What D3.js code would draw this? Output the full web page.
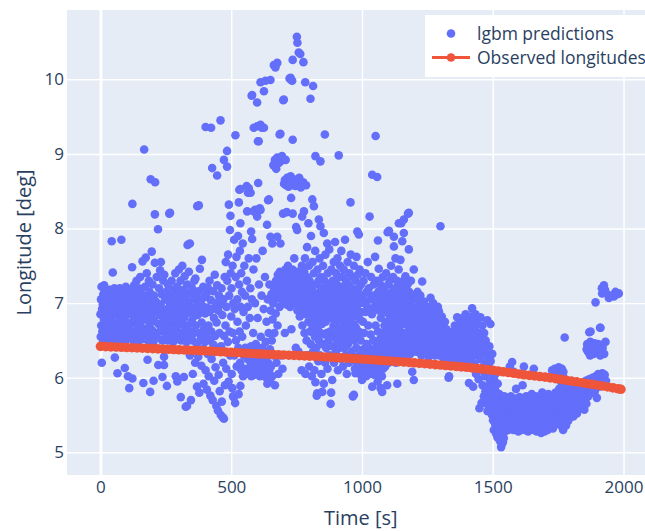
<!DOCTYPE html>
<html><head><meta charset="utf-8">
<script src="https://cdn.jsdelivr.net/npm/d3@7"></script>
<style>body{margin:0;background:#fff}svg{display:block;font-family:"Open Sans",sans-serif}</style>
</head><body><svg id="c" width="645" height="531"></svg>
<script>
const xTicks=[0,500,1000,1500,2000];
const yTicks=[5,6,7,8,9,10];
const seriesNames=["lgbm predictions","Observed longitudes"];
const axisTitles={x:"Time [s]",y:"Longitude [deg]"};
const obsTime=[0,20,40,60,80,100,120,140,160,180,200,220,240,260,280,300,320,340,360,380,400,420,440,460,480,500,520,540,560,580,600,620,640,660,680,700,720,740,760,780,800,820,840,860,880,900,920,940,960,980,1000,1020,1040,1060,1080,1100,1120,1140,1160,1180,1200,1220,1240,1260,1280,1300,1320,1340,1360,1380,1400,1420,1440,1460,1480,1500,1520,1540,1560,1580,1600,1620,1640,1660,1680,1700,1720,1740,1760,1780,1800,1820,1840,1860,1880,1900,1920,1940,1960,1980,1990];
const obsLon=[6.420,6.417,6.414,6.411,6.408,6.405,6.402,6.399,6.396,6.393,6.390,6.387,6.384,6.381,6.378,6.375,6.372,6.369,6.366,6.363,6.360,6.356,6.352,6.348,6.344,6.340,6.336,6.332,6.328,6.324,6.320,6.317,6.314,6.311,6.308,6.305,6.302,6.299,6.296,6.293,6.290,6.286,6.282,6.278,6.274,6.270,6.266,6.262,6.258,6.254,6.250,6.245,6.240,6.235,6.230,6.225,6.220,6.215,6.210,6.205,6.200,6.194,6.188,6.182,6.176,6.170,6.164,6.158,6.152,6.146,6.140,6.132,6.124,6.116,6.108,6.100,6.090,6.080,6.070,6.060,6.050,6.040,6.032,6.024,6.016,6.008,5.998,5.988,5.978,5.966,5.955,5.944,5.933,5.922,5.911,5.900,5.888,5.876,5.864,5.852,5.845];
const predSeg1=[[0,6.85],[1,6.55],[2,7.05],[3,6.7],[4,7.22],[5,6.2],[6,6.92],[7,6.62],[9,6.98],[10,6.5],[11,7.12],[13,6.78],[14,7.24],[15,6.6],[17,6.88],[18,6.52],[20,7.02],[21,6.68],[23,7.15],[24,6.82],[26,6.58],[27,6.95],[29,7.08],[30,6.72],[32,6.5],[33,6.9],[35,7.18],[36,6.64],[38,6.8],[40,7.0],[41,6.55],[43,7.83],[44,6.92],[46,6.74],[47,7.41],[48,7.1],[50,6.62],[51,6.86],[53,7.2],[54,6.5],[55,6.27],[56,6.97],[58,6.7],[59,7.06],[61,6.58],[62,6.84],[64,7.14],[65,6.06],[66,6.66],[68,6.93],[69,6.53],[71,7.02],[72,6.76],[74,7.2],[75,6.6],[77,6.9],[78,6.48],[80,7.85],[81,7.08],[83,6.72],[84,6.95],[86,6.56],[87,7.16],[89,6.82],[90,6.64],[92,7.04],[93,6.13],[94,6.9],[96,6.5],[97,7.22],[99,6.75],[100,6.98],[102,6.6],[103,7.12],[105,6.02],[106,6.85],[108,6.68],[109,7.05],[110,5.86],[111,6.54],[113,6.94],[114,7.18],[116,6.72],[117,6.6],[119,7.0],[121,7.48],[122,8.33],[122,5.99],[123,6.88],[125,6.5],[126,7.1],[128,6.78],[129,7.24],[131,6.62],[132,6.95],[134,6.84],[135,7.14],[137,6.56],[138,7.3],[140,6.9],[141,6.7],[143,7.06],[144,6.48],[146,7.2],[147,6.8],[149,6.64],[150,7.0],[152,7.35],[153,6.74],[155,6.92],[156,6.58],[158,7.12],[159,6.86],[161,7.56],[162,6.66],[164,5.93],[165,7.04],[167,9.06],[168,6.52],[170,7.22],[171,6.78],[173,7.61],[174,6.96],[176,6.62],[177,7.4],[179,6.84],[180,6.24],[181,7.1],[182,6.5],[184,6.92],[185,7.3],[187,6.7],[188,7.15],[190,5.81],[191,6.58],[192,8.66],[193,7.0],[195,6.8],[196,7.69],[197,6.64],[199,7.25],[200,6.9],[202,6.48],[203,5.96],[204,7.1],[206,6.76],[208,7.54],[208,8.19],[209,8.62],[210,6.6],[212,7.02],[213,6.88],[215,7.35],[216,6.54],[218,6.95],[220,7.99],[221,6.17],[222,6.72],[224,7.2],[225,6.84],[227,6.62],[228,7.44],[230,6.98],[231,7.55],[233,6.7],[234,7.12],[236,6.5],[237,6.01],[238,6.9],[240,7.3],[241,6.78],[243,6.28],[243,6.17],[244,7.38],[245,6.64],[247,7.05],[248,6.86],[250,6.56]];
const predSeg2=[[251,7.15],[252,6.7],[254,5.89],[255,6.92],[256,6.5],[258,7.25],[259,6.8],[261,6.62],[262,7.02],[263,8.2],[264,6.88],[266,8.21],[266,6.55],[268,7.1],[269,6.74],[271,6.96],[272,7.3],[274,6.6],[275,6.85],[277,7.18],[278,6.48],[280,6.92],[281,6.7],[283,7.06],[284,6.58],[286,7.4],[287,6.82],[288,6.02],[289,7.0],[290,6.66],[292,7.22],[293,6.52],[294,5.95],[295,6.9],[297,7.12],[298,6.76],[300,7.45],[301,6.6],[303,6.98],[304,6.84],[306,7.3],[307,5.74],[308,6.5],[310,7.05],[311,6.72],[313,7.5],[314,6.9],[316,6.58],[317,7.18],[319,6.01],[320,6.8],[322,7.36],[323,6.64],[325,6.95],[326,5.61],[327,7.1],[329,6.48],[330,6.86],[331,5.62],[332,7.25],[333,7.78],[334,6.7],[336,7.0],[337,6.56],[338,7.42],[340,6.88],[342,7.8],[342,6.3],[343,7.14],[345,6.62],[346,5.7],[347,6.94],[349,6.76],[350,7.2],[352,6.5],[353,6.05],[355,7.05],[356,6.82],[358,6.6],[359,7.3],[361,6.92],[362,6.2],[363,7.33],[365,6.7],[366,7.1],[368,6.45],[369,5.88],[370,8.3],[371,6.98],[372,6.84],[374,6.28],[375,7.16],[376,8.31],[377,6.6],[378,5.8],[380,7.46],[381,6.9],[383,6.52],[384,7.04],[386,6.16],[387,6.74],[388,7.58],[390,6.96],[391,6.38],[393,7.22],[394,5.92],[396,6.66],[397,7.08],[399,6.48],[400,6.86],[402,9.36],[402,6.1],[404,7.12],[405,6.58],[407,5.84],[408,6.94],[410,6.32],[411,7.2],[413,6.7],[414,6.02],[416,6.88],[417,7.3],[419,6.5],[420,5.76],[422,7.04],[423,9.35],[424,6.62],[425,6.25],[427,8.81],[428,6.92],[429,5.7],[431,7.16],[432,6.44],[434,6.8],[435,5.96],[437,7.38],[438,6.56],[440,6.14],[441,7.0],[443,5.62],[444,6.74],[446,8.71],[446,7.24],[447,6.36],[449,5.56],[450,6.9],[452,6.04],[453,7.1],[455,6.6],[456,5.82],[458,6.98],[459,9.45],[460,5.5],[461,6.42],[463,7.2],[464,5.68],[466,6.84],[467,5.47],[469,6.2],[470,7.05],[472,8.92],[472,5.45],[473,6.56],[475,7.35],[476,5.9],[478,6.7],[479,7.55],[481,6.12],[482,6.95],[484,8.83],[484,9.04],[485,7.3],[487,6.48],[488,7.65],[490,5.95],[491,8.32],[492,7.1],[494,6.62],[495,7.98],[496,6.3],[497,8.17],[498,7.4],[500,6.82]];
const predSeg3=[[501,7.2],[502,6.05],[504,5.86],[505,7.5],[506,6.6],[507,5.75],[508,7.0],[510,5.74],[511,7.85],[512,6.3],[513,6.92],[515,5.66],[516,9.25],[517,7.35],[518,6.5],[520,7.62],[521,6.15],[523,7.05],[524,6.75],[526,7.9],[527,6.4],[528,5.78],[529,8.35],[530,7.25],[531,8.52],[532,6.62],[533,7.7],[534,6.2],[535,8.53],[535,8.07],[535,5.89],[536,6.95],[538,7.4],[539,6.1],[541,7.15],[542,6.55],[544,7.8],[545,6.02],[547,6.88],[548,6.3],[550,7.5],[551,6.12],[553,7.1],[554,6.4],[556,6.7],[557,6.05],[559,8.57],[560,7.3],[561,8.23],[562,6.25],[563,6.95],[564,8.48],[565,6.12],[567,8.54],[567,7.6],[568,6.35],[570,6.08],[571,6.8],[573,7.2],[574,8.48],[574,6.2],[576,7.96],[576,6.42],[577,6.02],[578,9.78],[579,7.05],[580,9.79],[580,7.86],[581,6.3],[582,6.1],[584,6.6],[585,7.45],[586,8.23],[586,9.35],[587,6.18],[588,6.38],[590,6.04],[591,8.25],[591,7.0],[592,6.28],[594,6.45],[595,6.12],[596,7.6],[597,6.32],[599,9.69],[599,9.37],[599,8.16],[600,6.05],[601,6.8],[602,9.17],[603,8.61],[603,6.22],[604,6.4],[605,9.17],[606,7.25],[607,6.1],[609,8.27],[609,6.34],[610,6.02],[612,9.96],[612,9.39],[612,8.25],[613,6.55],[614,6.2],[616,7.1],[617,9.35],[617,6.08],[619,6.4],[620,7.7],[621,6.15],[622,6.3],[624,6.92],[625,9.84],[625,9.35],[626,6.05],[628,6.25],[629,7.35],[631,9.98],[631,6.12],[632,6.48],[634,6.0],[635,6.75],[637,8.05],[637,6.3],[638,5.92],[640,7.05],[641,8.38],[641,6.2],[643,6.6],[644,8.39],[645,6.1],[646,7.25],[648,6.38],[649,5.95],[650,9.99],[650,7.89],[651,6.9],[652,6.15],[654,7.12],[655,6.5],[657,7.8],[657,6.02],[658,6.78],[660,7.0],[661,8.85],[662,6.3],[663,10.19],[664,7.2],[665,6.6],[667,8.92],[667,5.9],[668,7.05],[669,10.16],[670,6.86],[671,7.3],[672,8.8],[673,6.2],[674,7.15],[676,10.22],[676,7.89],[676,8.95],[677,6.7],[678,7.38],[680,6.05],[681,7.1],[682,8.88],[683,7.25],[685,9.26],[685,6.95],[686,7.42],[688,9.27],[688,7.8],[688,8.9],[689,7.18],[690,6.3],[691,7.32],[693,7.05],[694,8.97],[695,7.4],[696,6.12],[697,7.22],[698,8.2],[699,9.72],[700,7.0],[701,9.73],[701,7.35],[702,8.6],[703,7.15],[705,8.65],[705,6.6],[706,7.28],[707,7.45],[708,8.92],[709,7.1],[710,8.58],[711,7.36],[712,8.22],[713,6.98],[714,8.68],[715,7.25],[716,8.62],[717,7.5],[718,7.05],[719,8.56],[720,7.3],[721,8.66],[722,7.15],[723,10.01],[723,7.4],[724,8.6],[725,6.95],[726,7.22],[727,10.02],[727,8.7],[728,7.35],[729,9.99],[729,8.41],[730,6.65],[730,7.1],[731,8.63],[732,7.28],[733,9.98],[734,7.45],[735,10.26],[735,9.19],[735,8.2],[736,8.58],[737,7.05],[738,7.3],[739,8.66],[740,7.18],[741,7.6],[742,8.62],[743,7.0],[744,7.35],[745,8.57],[746,7.12],[747,6.4],[748,8.02],[748,7.25],[749,8.64],[750,7.42]];
const predSeg4=[[751,10.57],[751,7.05],[752,7.98],[753,10.49],[753,6.9],[754,7.32],[755,8.6],[756,7.15],[757,6.35],[758,10.36],[758,7.4],[759,7.0],[760,8.68],[761,7.25],[762,6.82],[764,10.34],[764,7.1],[765,7.38],[766,8.55],[767,6.95],[768,7.2],[769,6.1],[770,7.5],[771,8.16],[771,7.05],[772,6.7],[774,7.3],[775,8.62],[776,10.23],[776,6.88],[777,7.15],[778,8.23],[779,7.42],[780,6.6],[781,7.0],[782,7.6],[783,9.96],[783,7.25],[784,6.05],[785,6.85],[786,8.58],[787,7.12],[788,6.5],[789,7.35],[790,7.75],[791,6.95],[792,6.3],[793,7.2],[795,8.07],[795,6.75],[796,7.05],[797,7.5],[798,6.15],[799,6.9],[800,7.3],[801,6.62],[803,9.74],[803,7.1],[804,6.45],[805,7.9],[806,6.85],[807,7.2],[808,6.02],[809,7.0],[810,8.39],[810,6.7],[811,7.55],[812,6.9],[813,9.91],[813,6.35],[814,7.15],[815,6.6],[816,8.3],[816,7.4],[817,6.8],[818,6.1],[819,7.05],[820,6.55],[821,7.7],[822,8.97],[822,5.94],[823,6.95],[824,7.25],[825,6.4],[826,6.75],[827,5.76],[828,7.1],[829,5.79],[830,7.45],[831,6.65],[832,6.9],[833,6.22],[834,7.3],[835,8.12],[835,6.5],[836,7.0],[837,6.82],[838,7.6],[839,6.3],[840,7.15],[841,8.9],[841,8.03],[842,6.6],[843,7.35],[844,6.95],[845,6.05],[846,7.2],[847,6.72],[848,5.81],[849,7.05],[850,6.45],[851,7.5],[852,6.85],[854,7.94],[854,5.92],[855,7.1],[856,6.58],[857,7.3],[858,9.26],[858,6.9],[859,6.2],[860,7.65],[861,6.75],[862,7.0],[863,6.4],[864,7.2],[865,6.6],[867,7.8],[867,6.95],[868,6.12],[869,7.4],[870,6.8],[871,7.05],[872,6.5],[873,7.25],[874,6.88],[875,7.72],[876,6.3],[877,7.0],[878,6.62],[880,5.65],[880,7.15],[881,6.8],[882,5.8],[883,7.45],[884,6.55],[885,7.1],[886,5.97],[887,6.9],[888,7.3],[889,6.42],[890,7.0],[891,6.7],[892,7.55],[893,6.2],[894,6.95],[895,7.2],[896,6.58],[897,7.82],[898,6.85],[899,7.1],[900,6.35],[901,7.4],[902,6.75],[903,6.95],[904,7.25],[905,6.5],[906,7.6],[907,6.88],[908,6.1],[909,7.05],[910,6.65],[911,8.98],[911,7.35],[912,6.8],[913,7.15],[914,6.4],[915,7.0],[916,7.5],[917,6.6],[918,6.92],[919,7.22],[920,6.25],[921,7.7],[922,6.78],[923,7.08],[924,6.5],[925,7.35],[926,6.9],[927,6.15],[928,7.15],[929,6.7],[930,7.45],[931,6.98],[932,6.4],[933,7.2],[934,6.62],[935,7.85],[936,6.85],[937,7.05],[938,6.3],[939,7.3],[940,6.55],[941,6.95],[942,6.05],[943,7.15],[944,6.75],[945,7.55],[946,6.45],[947,7.0],[948,6.88],[949,7.25],[950,6.2],[951,6.65],[952,7.4],[953,6.9],[954,7.1],[956,8.35],[956,6.5],[957,7.65],[958,6.8],[959,7.0],[960,6.35],[961,7.2],[962,6.6],[963,6.92],[965,5.75],[965,7.35],[966,6.72],[967,7.05],[968,6.28],[969,5.77],[969,7.5],[970,6.85],[971,6.5],[972,7.15],[973,6.12],[974,6.95],[975,6.06],[975,7.3],[976,6.68],[977,7.0],[978,6.4],[979,7.62],[980,6.82],[981,6.2],[982,7.96],[982,7.1],[983,6.55],[984,7.38],[985,6.9],[986,6.1],[987,7.2],[988,7.92],[988,6.62],[989,7.0],[990,6.3],[991,7.45],[992,6.78],[993,6.15],[994,7.1],[995,6.5],[996,7.25],[997,6.88],[998,6.02],[999,7.05],[1000,5.97]];
const predSeg5=[[1001,6.3],[1002,7.1],[1003,6.15],[1004,6.75],[1005,6.38],[1006,7.3],[1007,6.05],[1008,6.6],[1009,6.22],[1010,7.0],[1011,6.35],[1012,6.12],[1013,7.4],[1014,6.88],[1015,6.28],[1016,6.02],[1017,7.15],[1018,6.45],[1019,6.18],[1020,6.95],[1021,6.32],[1022,7.55],[1023,6.08],[1024,6.7],[1025,6.25],[1026,7.2],[1027,6.4],[1028,6.14],[1029,8.16],[1029,6.9],[1030,6.3],[1031,7.05],[1032,6.05],[1033,6.58],[1034,6.22],[1035,7.35],[1036,6.36],[1037,6.1],[1038,6.85],[1039,8.72],[1039,5.88],[1040,6.28],[1041,7.1],[1042,6.15],[1043,6.5],[1044,6.32],[1045,7.25],[1046,6.04],[1047,6.2],[1048,6.95],[1049,6.38],[1050,7.62],[1051,6.12],[1052,9.24],[1052,6.7],[1053,6.26],[1054,7.0],[1055,6.08],[1056,6.42],[1057,7.3],[1058,8.69],[1058,6.18],[1059,6.34],[1060,5.95],[1061,7.84],[1061,6.62],[1062,7.15],[1063,6.22],[1064,7.46],[1064,6.05],[1065,6.9],[1066,6.3],[1067,7.05],[1068,6.14],[1069,6.52],[1070,7.25],[1071,5.86],[1071,6.36],[1072,6.8],[1073,6.2],[1074,7.1],[1075,6.42],[1076,6.02],[1077,5.81],[1077,6.95],[1078,6.28],[1079,7.35],[1080,6.6],[1081,6.12],[1082,7.0],[1083,6.45],[1084,6.25],[1085,7.2],[1086,6.7],[1087,6.35],[1088,7.05],[1089,6.15],[1090,6.88],[1092,7.4],[1093,6.55],[1094,6.3],[1095,7.12],[1096,5.9],[1096,6.75],[1098,7.95],[1098,6.95],[1099,6.4],[1100,7.25],[1101,6.62],[1102,6.2],[1103,7.97],[1103,6.85],[1104,7.08],[1105,6.48],[1106,7.3],[1107,6.7],[1108,6.35],[1109,7.0],[1110,6.9],[1111,7.5],[1112,6.58],[1113,6.25],[1114,7.15],[1115,6.8],[1116,6.42],[1117,7.05],[1118,6.65],[1119,7.35],[1120,6.3],[1121,6.95],[1122,7.89],[1122,7.76],[1123,6.5],[1124,7.2],[1125,6.72],[1126,6.38],[1127,7.0],[1128,7.6],[1128,6.85],[1129,6.2],[1130,6.6],[1131,7.1],[1132,6.45],[1133,6.92],[1134,7.3],[1135,5.92],[1135,6.55],[1136,6.78],[1137,7.05],[1138,6.32],[1139,6.98],[1140,7.45],[1141,8.07],[1141,6.62],[1142,6.25],[1143,7.15],[1144,6.88],[1145,6.5],[1146,7.25],[1147,7.58],[1147,6.7],[1148,6.4],[1149,7.0],[1150,8.07],[1150,6.82],[1151,6.3],[1152,7.2],[1153,6.6],[1154,7.83],[1154,6.95],[1155,6.45],[1156,7.1],[1157,6.72],[1158,6.35],[1159,7.3],[1160,8.12],[1160,7.94],[1160,6.85],[1161,6.55],[1162,7.05],[1163,6.4],[1164,6.92],[1165,7.2],[1166,7.36],[1166,6.6],[1167,6.3],[1168,7.0],[1169,6.75],[1170,6.48],[1171,7.12],[1172,6.85],[1173,6.38],[1174,7.25],[1175,6.62],[1176,8.2],[1176,6.95],[1177,6.5],[1178,7.05],[1179,8.21],[1179,7.72],[1179,6.7],[1180,6.42],[1181,7.15],[1182,6.88],[1183,6.55],[1184,7.0],[1185,6.32],[1186,6.78],[1187,7.3],[1188,6.62],[1189,6.45],[1190,6.95],[1192,6.08],[1192,6.7],[1193,7.1],[1194,6.5],[1195,6.85],[1196,6.38],[1198,7.45],[1198,5.97],[1198,6.65],[1200,6.92],[1202,6.48],[1203,6.75],[1205,7.05],[1206,6.55],[1208,6.35],[1209,6.88],[1211,6.62],[1212,7.15],[1214,6.45],[1215,6.8],[1217,6.58],[1218,6.98],[1220,6.4],[1221,6.7],[1223,7.1],[1224,6.52],[1226,6.85],[1227,6.3],[1229,6.65],[1230,7.29],[1231,6.9],[1232,6.48],[1234,6.75],[1236,7.02],[1236,6.58],[1238,6.4],[1239,6.82],[1241,6.62],[1242,6.95],[1244,6.5],[1245,6.72],[1247,6.35],[1248,6.88],[1250,6.6]];
const predSeg6=[[1251,6.95],[1252,6.42],[1254,6.7],[1255,6.28],[1257,6.85],[1258,6.52],[1260,6.62],[1262,7.07],[1263,6.38],[1264,6.78],[1266,6.5],[1267,6.92],[1269,6.32],[1270,6.68],[1272,7.0],[1273,6.45],[1275,6.58],[1276,6.82],[1278,6.3],[1279,6.72],[1281,6.48],[1282,6.9],[1284,6.6],[1285,6.36],[1287,6.75],[1288,6.52],[1290,6.95],[1291,6.42],[1293,6.65],[1294,6.89],[1296,6.3],[1297,6.58],[1299,6.78],[1300,8.03],[1300,6.45],[1302,6.62],[1303,6.35],[1305,6.82],[1306,6.5],[1308,6.28],[1309,6.7],[1311,6.42],[1312,6.6],[1314,6.22],[1315,6.55],[1317,6.75],[1318,6.38],[1320,6.5],[1321,6.25],[1323,6.65],[1324,6.4],[1326,6.3],[1327,6.58],[1329,6.2],[1330,6.48],[1331,6.0],[1332,6.35],[1333,6.02],[1334,6.55],[1336,6.28],[1337,6.42],[1339,6.22],[1340,6.6],[1342,6.35],[1343,6.5],[1345,6.25],[1346,6.45],[1348,6.62],[1349,6.32],[1351,6.52],[1352,6.2],[1354,6.4],[1355,6.7],[1357,6.3],[1358,6.55],[1360,6.42],[1361,6.25],[1363,6.62],[1364,6.81],[1365,6.35],[1367,6.5],[1368,6.28],[1370,6.68],[1371,6.44],[1373,6.22],[1374,6.58],[1376,6.75],[1377,6.36],[1379,6.52],[1380,6.3],[1382,6.65],[1383,6.45],[1385,6.8],[1386,6.25],[1388,6.56],[1389,6.4],[1391,6.72],[1392,6.32],[1394,6.6],[1396,6.85],[1397,6.48],[1398,6.2],[1400,6.68],[1401,6.38],[1403,6.55],[1404,6.78],[1406,6.28],[1407,6.62],[1409,5.93],[1409,6.45],[1411,6.72],[1412,6.35],[1414,6.58],[1415,6.82],[1417,6.25],[1418,6.5],[1420,6.68],[1421,6.93],[1422,6.4],[1424,6.6],[1425,5.88],[1425,6.3],[1427,6.75],[1428,6.52],[1430,6.18],[1431,6.65],[1433,6.42],[1434,6.85],[1436,6.05],[1437,6.58],[1439,6.32],[1440,6.72],[1442,6.12],[1443,6.48],[1445,6.8],[1446,5.98],[1448,6.6],[1449,5.59],[1450,6.25],[1451,6.4],[1453,6.81],[1454,6.1],[1455,6.55],[1457,5.66],[1458,6.3],[1460,6.7],[1461,5.9],[1463,6.45],[1464,6.15],[1466,5.75],[1467,6.6],[1469,6.02],[1470,6.35],[1472,5.82],[1473,6.5],[1475,6.2],[1476,5.65],[1478,6.08],[1479,6.77],[1480,5.55],[1481,6.3],[1483,5.88],[1484,6.15],[1486,5.72],[1487,6.42],[1489,5.95],[1490,5.6],[1491,6.72],[1492,6.22],[1494,5.8],[1495,6.05],[1497,5.5],[1498,6.32],[1499,5.68],[1500,5.92]];
const predSeg7=[[1501,5.43],[1502,6.1],[1503,5.75],[1504,5.3],[1505,5.98],[1506,5.55],[1508,5.85],[1509,5.38],[1510,6.05],[1511,5.62],[1513,5.25],[1514,5.8],[1515,5.48],[1517,5.7],[1518,5.2],[1519,5.92],[1521,5.35],[1522,5.6],[1524,5.28],[1525,5.78],[1526,5.45],[1528,5.15],[1529,5.66],[1530,5.4],[1532,5.07],[1533,5.55],[1534,5.3],[1536,5.12],[1537,5.7],[1538,5.45],[1539,5.14],[1540,5.6],[1542,5.19],[1543,5.35],[1544,5.75],[1546,5.5],[1547,5.28],[1549,5.65],[1550,5.4],[1552,5.58],[1553,5.32],[1555,5.72],[1556,5.46],[1558,5.62],[1559,5.3],[1561,5.52],[1562,5.7],[1564,5.38],[1565,6.15],[1566,5.6],[1568,5.45],[1569,5.75],[1571,5.34],[1572,5.55],[1574,6.21],[1575,5.68],[1576,5.42],[1578,5.6],[1579,5.3],[1580,6.08],[1581,5.5],[1583,5.72],[1584,5.38],[1586,5.62],[1587,5.48],[1589,5.85],[1590,5.33],[1592,5.58],[1593,5.7],[1595,5.42],[1596,5.55],[1598,5.28],[1599,5.66],[1601,5.46],[1602,5.74],[1604,5.36],[1605,5.6],[1607,5.5],[1608,5.3],[1610,5.68],[1611,5.42],[1613,5.58],[1614,5.9],[1616,5.35],[1617,5.65],[1619,6.15],[1619,5.48],[1620,5.72],[1622,5.3],[1623,5.55],[1625,5.62],[1626,5.4],[1628,5.75],[1629,5.33],[1631,5.52],[1632,5.68],[1634,5.45],[1635,5.28],[1637,5.6],[1638,5.38],[1640,5.72],[1641,5.5],[1643,5.32],[1644,5.64],[1646,5.42],[1647,5.56],[1649,5.78],[1650,5.35],[1652,5.62],[1653,5.46],[1655,5.7],[1656,5.3],[1657,6.12],[1658,5.55],[1659,5.4],[1661,5.66],[1662,5.5],[1664,5.75],[1665,5.36],[1667,5.6],[1668,5.28],[1670,5.52],[1671,5.7],[1673,5.42],[1674,5.58],[1676,5.34],[1677,5.65],[1679,5.48],[1680,5.72],[1682,5.38],[1683,5.55],[1685,5.26],[1686,5.62],[1688,5.45],[1689,5.8],[1691,5.32],[1692,5.58],[1694,5.7],[1695,5.4],[1697,5.52],[1698,5.28],[1700,5.65],[1701,5.46],[1703,5.74],[1704,5.35],[1706,5.6],[1707,5.42],[1709,5.68],[1710,5.3],[1712,5.55],[1713,5.78],[1715,5.45],[1716,5.62],[1718,5.36],[1719,5.7],[1721,5.5],[1722,6.02],[1724,5.58],[1725,5.42],[1727,6.1],[1728,5.66],[1730,5.32],[1731,5.74],[1733,6.05],[1734,5.52],[1736,5.62],[1737,6.12],[1739,5.45],[1740,5.8],[1742,6.0],[1743,5.58],[1745,5.38],[1746,6.1],[1748,5.68],[1749,5.5],[1750,6.04]];
const predSeg8=[[1751,5.6],[1752,6.14],[1753,5.45],[1754,5.85],[1755,6.06],[1756,5.52],[1757,5.72],[1758,6.1],[1759,5.4],[1760,5.95],[1761,6.02],[1762,5.62],[1763,5.35],[1764,6.12],[1765,5.8],[1766,5.5],[1767,6.04],[1768,5.68],[1769,5.3],[1770,6.08],[1771,5.88],[1772,5.55],[1773,5.42],[1774,5.75],[1775,6.54],[1776,5.6],[1777,5.98],[1778,5.48],[1779,5.7],[1780,5.36],[1782,5.62],[1783,5.85],[1785,5.5],[1786,5.72],[1788,5.42],[1789,5.8],[1791,5.58],[1792,5.65],[1794,5.46],[1795,5.88],[1797,5.55],[1798,5.75],[1800,5.5],[1802,5.68],[1803,5.82],[1805,5.58],[1806,5.72],[1808,5.48],[1810,5.9],[1811,5.62],[1813,5.78],[1814,5.55],[1816,5.7],[1818,5.85],[1819,5.6],[1821,5.74],[1822,5.52],[1824,5.82],[1826,5.66],[1827,5.92],[1829,5.58],[1830,5.76],[1832,5.7],[1834,5.62],[1835,5.86],[1837,5.72],[1838,5.6],[1840,5.9],[1842,5.75],[1843,5.66],[1845,5.82],[1847,5.7],[1848,5.94],[1850,5.57],[1851,5.78],[1853,5.86],[1855,5.72],[1856,5.96],[1858,5.65],[1859,6.38],[1860,5.82],[1861,6.45],[1862,5.9],[1864,6.35],[1865,5.75],[1866,6.42],[1868,5.98],[1869,6.61],[1870,5.85],[1872,6.3],[1873,6.48],[1874,6.62],[1875,5.92],[1877,6.38],[1878,5.8],[1880,6.44],[1881,6.0],[1883,5.88],[1884,6.4],[1886,6.32],[1887,5.95],[1889,6.46],[1890,5.82],[1891,6.36],[1893,7.01],[1894,6.02],[1895,6.42],[1896,5.9],[1898,5.73],[1899,6.34],[1900,5.96],[1902,6.45],[1903,6.05],[1905,5.88],[1906,6.02],[1907,6.38],[1909,5.94],[1910,6.67],[1911,6.3],[1912,6.67],[1913,6.0],[1915,6.44],[1916,5.92],[1917,7.2],[1918,7.13],[1919,6.06],[1920,6.4],[1922,5.98],[1923,7.22],[1925,7.24],[1926,6.32],[1928,6.04],[1929,7.18],[1931,7.15],[1931,6.48],[1933,5.96],[1944,7.07],[1950,7.1],[1963,7.09],[1969,7.15],[1975,7.12],[1982,7.13]];

const predictions=[].concat(predSeg1,predSeg2,predSeg3,predSeg4,predSeg5,predSeg6,predSeg7,predSeg8);
const observed=obsTime.map((t,i)=>[t,obsLon[i]]);

const BLUE="#636efa", RED="#EF553B", TXT="#2a3f5f";
const svg=d3.select("#c");
const L=67,T=10,R=654.4,B=475;
const x=d3.scaleLinear().domain([-128,2118]).range([L,R]);
const y=d3.scaleLinear().domain([4.696,10.929]).range([B,T]);

svg.append("rect").attr("width",645).attr("height",531).attr("fill","#fff");
svg.append("rect").attr("x",L).attr("y",T).attr("width",R-L).attr("height",B-T).attr("fill","#E5ECF6");

// grid
const gx=svg.append("g").attr("transform",`translate(0,${B})`)
  .call(d3.axisBottom(x).tickValues(xTicks).tickSize(-(B-T)).tickFormat(""));
gx.select(".domain").remove();
gx.selectAll("line").attr("stroke","#fff").attr("stroke-width",d=>d===0?2.9:1.45);
const gy=svg.append("g").attr("transform",`translate(${L},0)`)
  .call(d3.axisLeft(y).tickValues(yTicks).tickSize(-(R-L)).tickFormat(""));
gy.select(".domain").remove();
gy.selectAll("line").attr("stroke","#fff").attr("stroke-width",1.45);

// clip
svg.append("clipPath").attr("id","clip").append("rect").attr("x",L).attr("y",T).attr("width",R-L).attr("height",B-T);
const plot=svg.append("g").attr("clip-path","url(#clip)");

plot.append("g").selectAll("circle").data(predictions).join("circle")
  .attr("cx",d=>x(d[0])).attr("cy",d=>y(d[1])).attr("r",4.3).attr("fill",BLUE);

plot.append("path").datum(observed)
  .attr("d",d3.line().x(d=>x(d[0])).y(d=>y(d[1])))
  .attr("fill","none").attr("stroke",RED).attr("stroke-width",2.9);
plot.append("g").selectAll("circle").data(observed).join("circle")
  .attr("cx",d=>x(d[0])).attr("cy",d=>y(d[1])).attr("r",4.8).attr("fill",RED);

// tick labels
const ax=svg.append("g").attr("transform",`translate(0,${B})`)
  .call(d3.axisBottom(x).tickValues(xTicks).tickSize(0).tickPadding(6).tickFormat(d3.format("d")));
ax.select(".domain").remove();
ax.selectAll("text").attr("fill",TXT).style("font-size","17px").style("font-family",'"Open Sans",sans-serif');
const ay=svg.append("g").attr("transform",`translate(${L},0)`)
  .call(d3.axisLeft(y).tickValues(yTicks).tickSize(0).tickPadding(3).tickFormat(d3.format("d")));
ay.select(".domain").remove();
ay.selectAll("text").attr("fill",TXT).style("font-size","17px").style("font-family",'"Open Sans",sans-serif');

// axis titles
svg.append("text").attr("x",(L+R)/2).attr("y",525).attr("text-anchor","middle")
  .attr("fill",TXT).style("font-size","20px").text(axisTitles.x);
svg.append("text").attr("transform",`translate(31,${(T+B)/2}) rotate(-90)`).attr("text-anchor","middle")
  .attr("fill",TXT).style("font-size","20px").text(axisTitles.y);

// legend
const lg=svg.append("g");
lg.append("rect").attr("x",425).attr("y",15).attr("width",260).attr("height",62).attr("fill","#fff");
lg.append("circle").attr("cx",451).attr("cy",33.5).attr("r",4.3).attr("fill",BLUE);
lg.append("line").attr("x1",432).attr("x2",470).attr("y1",57.5).attr("y2",57.5).attr("stroke",RED).attr("stroke-width",2.9);
lg.append("circle").attr("cx",451).attr("cy",57.5).attr("r",4.3).attr("fill",RED);
lg.selectAll("text.lt").data(seriesNames).join("text").attr("class","lt")
  .attr("x",477).attr("y",(d,i)=>33.5+i*24).attr("dy","0.35em")
  .attr("fill",TXT).style("font-size","17.5px").text(d=>d);
</script></body></html>
